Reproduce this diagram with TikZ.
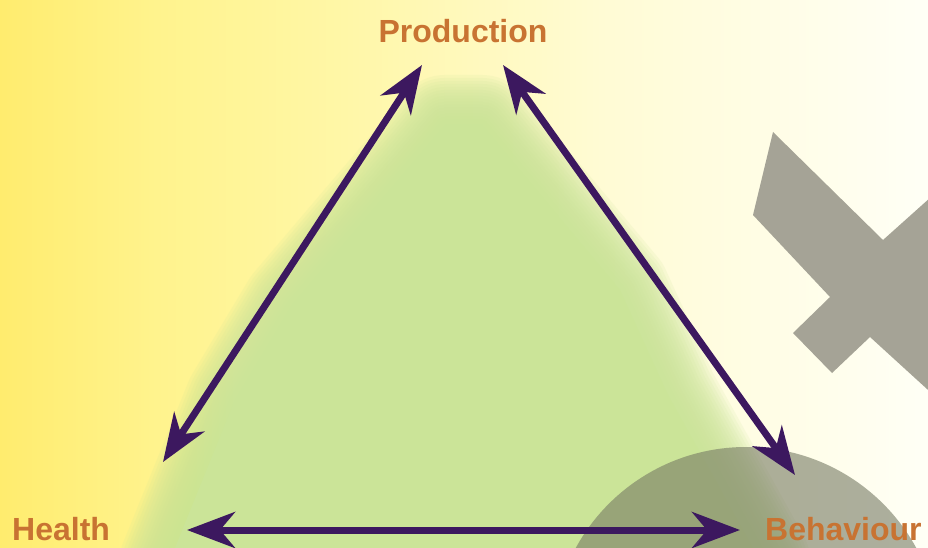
\documentclass[tikz,border=0pt]{standalone}
\usepackage{fontspec}
\setmainfont{Liberation Sans}
\usetikzlibrary{arrows.meta}
\definecolor{bgA}{RGB}{255,236,110}
\definecolor{bgB}{RGB}{255,243,140}
\definecolor{bgC}{RGB}{255,247,168}
\definecolor{bgD}{RGB}{255,251,212}
\definecolor{bgE}{RGB}{255,255,246}
\definecolor{greenc}{RGB}{203,228,152}
\definecolor{xgrey}{RGB}{165,163,150}
\definecolor{domec}{RGB}{118,122,100}
\definecolor{arrowc}{RGB}{60,24,95}
\definecolor{labelc}{RGB}{200,115,50}
\begin{document}
\begin{tikzpicture}[x=1pt,y=-1pt,
  lbl/.style={text=labelc, font=\fontsize{32}{32}\selectfont\bfseries, inner sep=0pt},
  link/.style={draw=arrowc, line width=7pt,
    {Stealth[length=48pt,width=36pt,inset=15pt]}-{Stealth[length=48pt,width=36pt,inset=15pt]}}]
\useasboundingbox (0,0) rectangle (928,548);
\begin{scope}
\clip (0,0) rectangle (928,548);
% background gradient
\shade[left color=bgA,right color=bgB] (-1,-1) rectangle (151,549);
\shade[left color=bgB,right color=bgC] (150,-1) rectangle (351,549);
\shade[left color=bgC,right color=bgD] (350,-1) rectangle (601,549);
\shade[left color=bgD,right color=bgE] (600,-1) rectangle (929,549);
% soft green triangle
\foreach \w in {100,94,88,82,76,70,64,58,52,46,40,34,28,22,16,10}{
  \draw[greenc, draw opacity=0.14, line width=\w pt, line join=round]
    (445,125) -- (482,125) -- (620,290) -- (668,395) -- (760,560)
    -- (170,560) -- (175,548) -- (235,400) -- (292,305) -- cycle;
}
\fill[greenc] (445,125) -- (482,125) -- (620,290) -- (668,395) -- (760,560)
    -- (170,560) -- (175,548) -- (235,400) -- (292,305) -- cycle;
% grey cross
\fill[xgrey] (773,132) -- (883,240) -- (950,180) -- (950,410) -- (870,337)
  -- (832,373) -- (793,333) -- (830,297) -- (753,215) -- cycle;
% dark dome
\fill[domec, fill opacity=0.6] (746,641) circle (194);
\end{scope}
% labels
\node[lbl, anchor=base] (prod) at (463,43) {Production};
\node[lbl, anchor=base west] (health) at (12,540) {Health};
\node[lbl, anchor=base west] (behav) at (765,540) {Behaviour};
% arrow ends
\coordinate (pa) at (422,65);
\coordinate (ha) at (163,462);
\coordinate (pb) at (503,65);
\coordinate (ba) at (795,475);
\coordinate (hb) at (187,530);
\coordinate (bb) at (740,530);
\draw[link] (pa) -- (ha);
\draw[link] (pb) -- (ba);
\draw[link] (hb) -- (bb);
\end{tikzpicture}
\end{document}
